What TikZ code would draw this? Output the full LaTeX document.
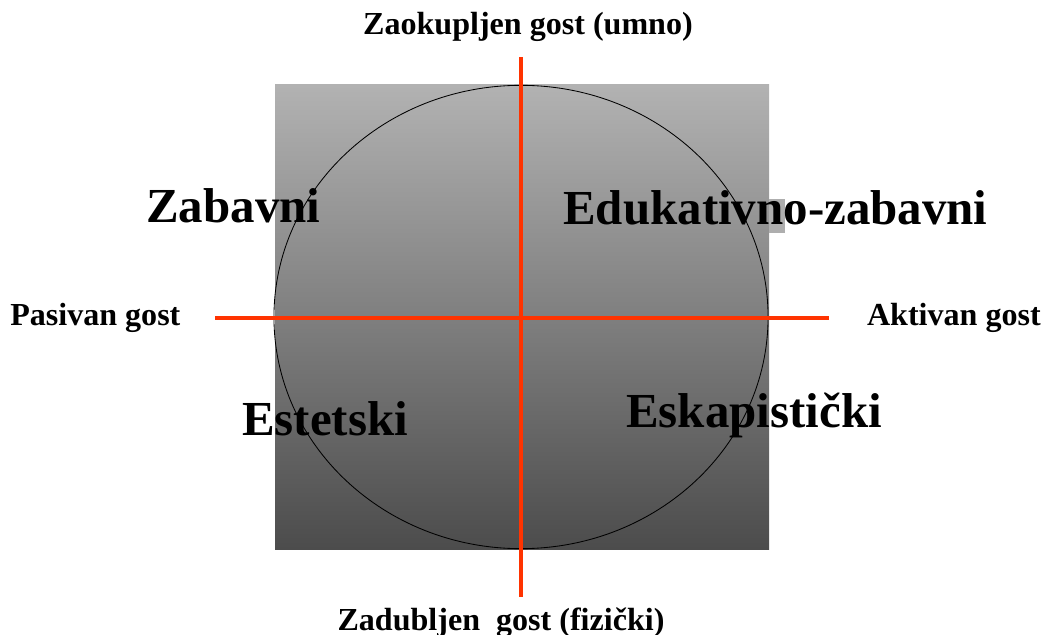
\documentclass[tikz,border=0pt]{standalone}
\usepackage{fontspec}
\setmainfont{Liberation Serif}
\usetikzlibrary{positioning}
\definecolor{axisred}{RGB}{255,51,0}
\definecolor{panelTop}{RGB}{178,178,178}
\definecolor{panelBottom}{RGB}{76,76,76}

\begin{document}
\begin{tikzpicture}[
    x=0.025cm, y=-0.025cm,
    axis/.style={line width=2.9pt, axisred},
    pole/.style={inner sep=0pt, font=\fontsize{22.8}{26}\selectfont\bfseries},
    quad/.style={inner sep=0pt, font=\fontsize{34.8}{40}\selectfont\bfseries},
]
\useasboundingbox (0,0) rectangle (1044,635);

% Panel and circle
\shade[top color=panelTop, bottom color=panelBottom] (275,85) rectangle (769,549);
\fill[panelTop!96!panelBottom] (769,199) rectangle (785,233);
\draw[black, line width=0.6pt] (521,317) ellipse [x radius=6.175cm, y radius=5.79cm];

% Quadrant labels
\node[quad, anchor=base west] (zab) at (146,223) {Zabavni};
\node[quad, anchor=base west] (edu) at (563,225) {Edukativno-zabavni};
\node[quad, anchor=base west] (est) at (242,435) {Estetski};
\node[quad, anchor=base west] (esk) at (626,427) {Eskapistički};

% Axis labels
\node[pole, anchor=base] (umno) at (528,35) {Zaokupljen gost (umno)};
\node[pole, anchor=base] (fiz) at (501,630) {Zadubljen\ \ gost (fizički)};
\node[pole, anchor=base west] (pas) at (10,326) {Pasivan gost};
\node[pole, anchor=base east] (akt) at (1041,326) {Aktivan gost};

% Axes
\coordinate (west) at (215,318);
\coordinate (east) at (829,318);
\coordinate (north) at (521,57);
\coordinate (south) at (521,597);
\draw[axis] (west) -- (east);
\draw[axis] (north) -- (south);

\end{tikzpicture}
\end{document}
